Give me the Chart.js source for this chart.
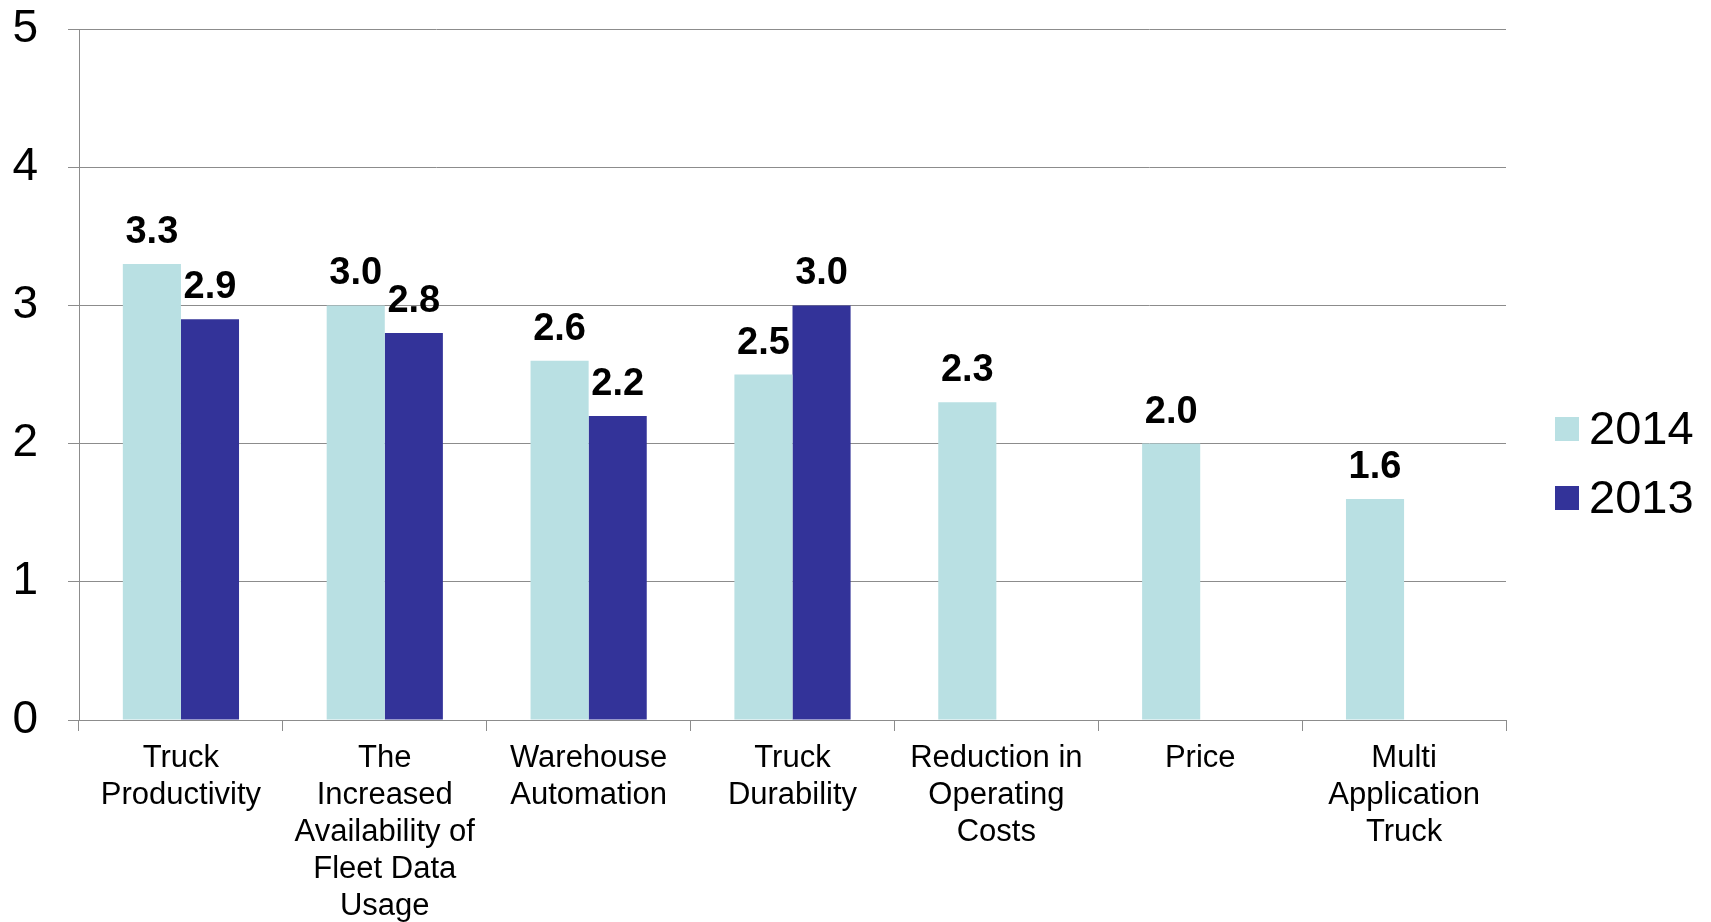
<!DOCTYPE html>
<html>
<head>
    <meta charset="UTF-8">
    <title>Truck survey 2014 vs 2013</title>
    <script src="https://cdn.jsdelivr.net/npm/chart.js@4.4.0/dist/chart.umd.min.js"></script>
    <style>
        body { margin: 0; background: #fff; }
        #wrap { width: 1711px; height: 922px; }
    </style>
</head>
<body>
    <div id="wrap"><canvas id="surveyChart"></canvas></div>

    <script>
        const categories = [
            ['Truck', 'Productivity'],
            ['The', 'Increased', 'Availability of', 'Fleet Data', 'Usage'],
            ['Warehouse', 'Automation'],
            ['Truck', 'Durability'],
            ['Reduction in', 'Operating', 'Costs'],
            ['Price'],
            ['Multi', 'Application', 'Truck']
        ];
        const values2014 = [3.3, 3.0, 2.6, 2.5, 2.3, 2.0, 1.6];
        const values2013 = [2.9, 2.8, 2.2, 3.0, null, null, null];
        const yTicks = [0, 1, 2, 3, 4, 5];

        const FONT = "'Liberation Sans', Arial, sans-serif";
        const GRID = '#8c8c8c';

        // value labels above each bar
        const barLabels = {
            id: 'barLabels',
            afterDatasetsDraw(chart) {
                const ctx = chart.ctx;
                ctx.save();
                ctx.font = 'bold 38px ' + FONT;
                ctx.fillStyle = '#000';
                ctx.textAlign = 'center';
                ctx.textBaseline = 'alphabetic';
                chart.data.datasets.forEach((ds, i) => {
                    chart.getDatasetMeta(i).data.forEach((bar, j) => {
                        const v = ds.data[j];
                        if (v === null) return;
                        ctx.fillText(v.toFixed(1), bar.x, bar.y - 21);
                    });
                });
                ctx.restore();
            }
        };

        // legend on the right, squares + year
        const sideLegend = {
            id: 'sideLegend',
            afterDraw(chart) {
                const ctx = chart.ctx;
                ctx.save();
                ctx.font = '47px ' + FONT;
                ctx.textBaseline = 'middle';
                ctx.textAlign = 'left';
                chart.data.datasets.forEach((ds, i) => {
                    const cy = 429 + i * 69;
                    ctx.fillStyle = ds.backgroundColor;
                    ctx.fillRect(1555, cy - 12, 24, 24);
                    ctx.fillStyle = '#000';
                    ctx.fillText(ds.label, 1589, cy + 2);
                });
                ctx.restore();
            }
        };

        new Chart(document.getElementById('surveyChart'), {
            type: 'bar',
            data: {
                labels: categories,
                datasets: [
                    { label: '2014', data: values2014, backgroundColor: '#b9e0e3' },
                    { label: '2013', data: values2013, backgroundColor: '#333399' }
                ]
            },
            options: {
                responsive: true,
                maintainAspectRatio: false,
                animation: false,
                layout: { padding: { top: 29, right: 205, bottom: 0, left: 0 } },
                datasets: { bar: { categoryPercentage: 0.57, barPercentage: 1.0 } },
                plugins: {
                    legend: { display: false },
                    tooltip: { enabled: false }
                },
                scales: {
                    x: {
                        grid: { drawOnChartArea: false, drawTicks: true, tickLength: 11, color: GRID, offset: true },
                        border: { display: true, color: GRID },
                        ticks: {
                            autoSkip: false, maxRotation: 0, padding: 9, color: '#000',
                            font: { family: FONT, size: 31, lineHeight: 1.19 }
                        },
                        afterFit(scale) { scale.height = 202; }
                    },
                    y: {
                        min: 0, max: 5,
                        afterBuildTicks(scale) { scale.ticks = yTicks.map(v => ({ value: v })); },
                        grid: { color: GRID, tickLength: 11, drawTicks: true },
                        border: { display: true, color: GRID },
                        ticks: {
                            padding: 30, color: '#000',
                            font: { family: FONT, size: 46 }
                        },
                        afterFit(scale) {
                            scale.width = 79;
                            scale.paddingTop = 0;
                            scale.paddingBottom = 0;
                        }
                    }
                }
            },
            plugins: [barLabels, sideLegend]
        });
    </script>
</body>
</html>
